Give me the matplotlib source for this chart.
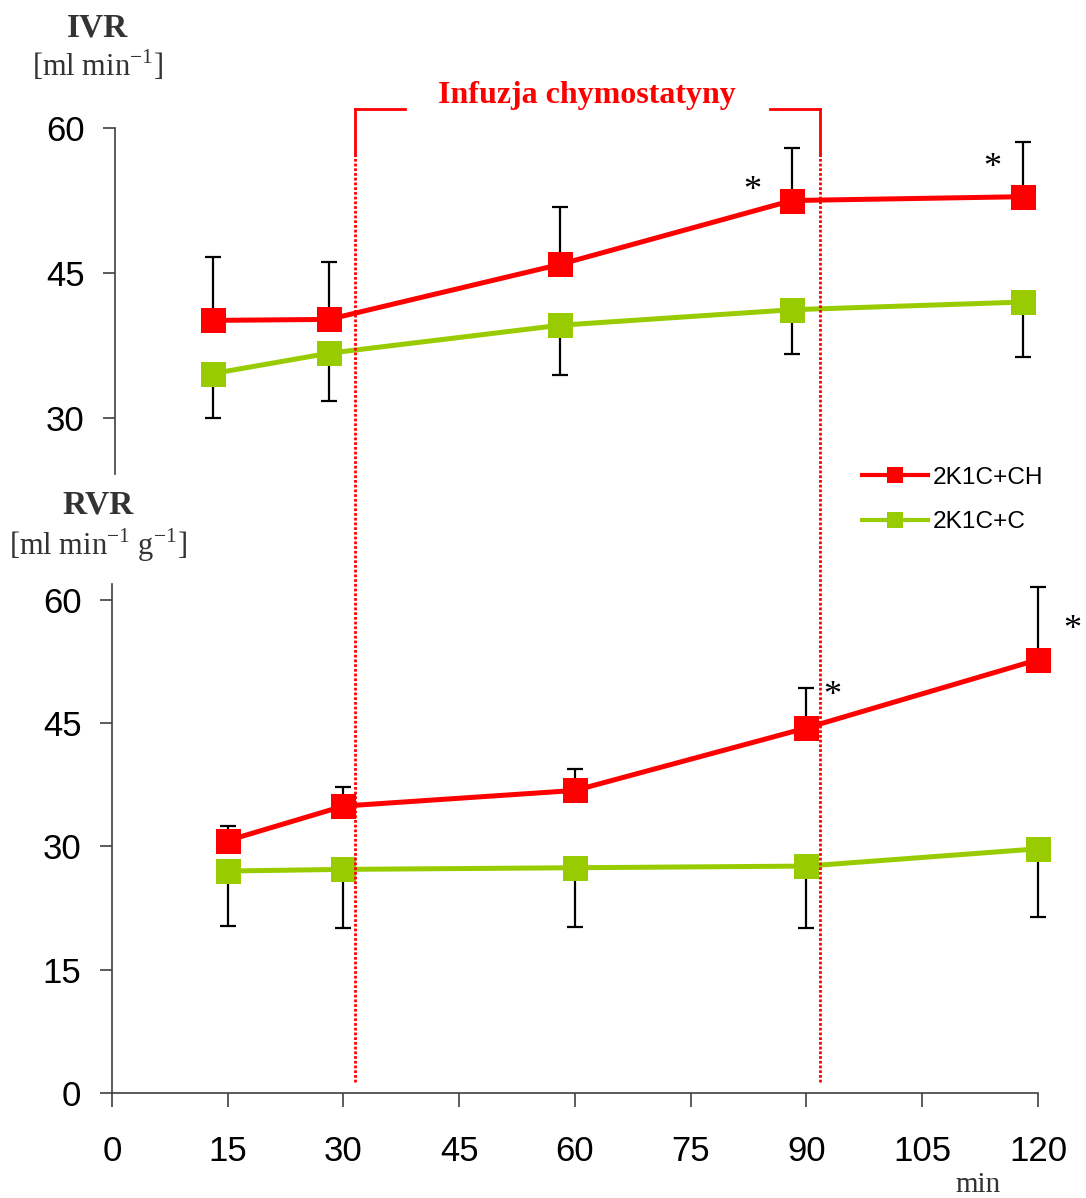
import matplotlib
matplotlib.use('Agg')
import matplotlib.pyplot as plt
from matplotlib.lines import Line2D
from matplotlib.transforms import blended_transform_factory

plt.rcParams['mathtext.fontset'] = 'custom'
plt.rcParams['mathtext.rm'] = 'Liberation Serif'

# czas pomiaru (min)
czas = [15, 30, 60, 90, 120]

# IVR [ml min-1]
ivr_ch = [40.1, 40.2, 45.9, 52.5, 52.9]
ivr_ch_err = [6.6, 5.9, 5.9, 5.4, 5.7]
ivr_c = [34.6, 36.7, 39.6, 41.2, 42.0]
ivr_c_err = [4.6, 4.9, 5.2, 4.6, 5.7]

# RVR [ml min-1 g-1]
rvr_ch = [30.7, 34.9, 36.8, 44.4, 52.7]
rvr_ch_err = [1.8, 2.3, 2.6, 4.8, 8.8]
rvr_c = [27.0, 27.2, 27.4, 27.6, 29.7]
rvr_c_err = [6.7, 7.1, 7.2, 7.5, 8.3]

etykiety = ['2K1C+CH', '2K1C+C']
infuzja = (31.5, 91.7)

CZERWONY = '#ff0000'
ZIELONY = '#99cc00'
SZARY = '#333333'
SANS = 'Liberation Sans'
SERIF = 'Liberation Serif'

fig = plt.figure(figsize=(10.86, 11.98), dpi=100)
ax1 = fig.add_axes([0.1059, 0.6043, 0.8527, 0.2888])
ax2 = fig.add_axes([0.1031, 0.0876, 0.8527, 0.4249])


def seria(ax, y, err, kolor, gora):
    if gora:
        yerr = [[0] * len(err), err]
    else:
        yerr = [err, [0] * len(err)]
    ax.errorbar(czas, y, yerr=yerr, fmt='none', ecolor='black', elinewidth=1.6,
                capsize=5.5, capthick=1.6, zorder=2, clip_on=False)
    ax.plot(czas, y, color=kolor, lw=3.6, marker='s', markersize=18,
            markeredgewidth=0, zorder=3, clip_on=False)


seria(ax1, ivr_ch, ivr_ch_err, CZERWONY, True)
seria(ax1, ivr_c, ivr_c_err, ZIELONY, False)
seria(ax2, rvr_ch, rvr_ch_err, CZERWONY, True)
seria(ax2, rvr_c, rvr_c_err, ZIELONY, False)

# panel górny
ax1.set_xlim(2.3, 122.3)
ax1.set_ylim(24.2, 60)
ax1.set_yticks([30, 45, 60])
ax1.xaxis.set_visible(False)
for s in ['top', 'right', 'bottom']:
    ax1.spines[s].set_visible(False)

# panel dolny
ax2.set_xlim(0, 120)
ax2.set_ylim(0, 61.9)
ax2.set_xticks(range(0, 121, 15))
ax2.set_yticks(range(0, 61, 15))
for s in ['top', 'right']:
    ax2.spines[s].set_visible(False)

for ax in (ax1, ax2):
    for s in ['left', 'bottom']:
        ax.spines[s].set_color('#404040')
        ax.spines[s].set_linewidth(1.2)
    ax.tick_params(axis='y', length=9, width=1.2, color='#404040', pad=13,
                   labelsize=25)
    ax.tick_params(axis='x', length=10, width=1.2, color='#404040', pad=20,
                   labelsize=25)
    for lab in ax.get_xticklabels() + ax.get_yticklabels():
        lab.set_fontfamily(SANS)

# gwiazdki
ax1.text(84.9, 53.4, '*', fontsize=26, fontfamily=SERIF, ha='center', va='center')
ax1.text(116.0, 55.8, '*', fontsize=26, fontfamily=SERIF, ha='center', va='center')
ax2.text(93.4, 48.2, '*', fontsize=26, fontfamily=SERIF, ha='center', va='center')
ax2.text(124.5, 56.2, '*', fontsize=26, fontfamily=SERIF, ha='center', va='center')

# okres infuzji chymostatyny
tr = blended_transform_factory(ax2.transData, fig.transFigure)
y_dol, y_kropki, y_klamra = 0.0968, 0.8706, 0.909
for xv in infuzja:
    fig.add_artist(Line2D([xv, xv], [y_dol, y_kropki], transform=tr, color=CZERWONY,
                          lw=2, linestyle=(0, (1, 0.7))))
    fig.add_artist(Line2D([xv, xv], [y_kropki, y_klamra], transform=tr, color=CZERWONY,
                          lw=2))
fig.add_artist(Line2D([infuzja[0], 38.0], [y_klamra, y_klamra], transform=tr,
                      color=CZERWONY, lw=2))
fig.add_artist(Line2D([85.3, infuzja[1]], [y_klamra, y_klamra], transform=tr,
                      color=CZERWONY, lw=2))
fig.text(587 / 1086, 1 - 95 / 1198, 'Infuzja chymostatyny', color=CZERWONY,
         fontsize=23, fontweight='bold', fontfamily=SERIF, ha='center', va='center')

# opisy osi
fig.text(0.0902, 0.9766, 'IVR', fontsize=24, fontweight='bold', fontfamily=SERIF,
         color=SZARY, ha='center', va='center')
fig.text(0.0902, 0.9449, '[ml min$^{-1}$]', fontsize=22, fontfamily=SERIF,
         color=SZARY, ha='center', va='center')
fig.text(0.0902, 0.5785, 'RVR', fontsize=24, fontweight='bold', fontfamily=SERIF,
         color=SZARY, ha='center', va='center')
fig.text(0.0902, 0.545, '[ml min$^{-1}$ g$^{-1}$]', fontsize=22, fontfamily=SERIF,
         color=SZARY, ha='center', va='center')
fig.text(0.9006, 0.0109, 'min', fontsize=21, fontfamily=SERIF, color=SZARY,
         ha='center', va='center')

# legenda
uchwyty = [Line2D([], [], color=CZERWONY, lw=3, marker='s', markersize=11, markeredgewidth=0),
           Line2D([], [], color=ZIELONY, lw=3, marker='s', markersize=11, markeredgewidth=0)]
fig.legend(uchwyty, etykiety, loc='upper left', bbox_to_anchor=(0.7937, 0.6105),
           frameon=False, prop={'family': SANS, 'size': 17.6}, handlelength=2.7,
           handletextpad=0.2, labelspacing=0.92, borderpad=0, borderaxespad=0)

fig.savefig('out.png', dpi=100)
